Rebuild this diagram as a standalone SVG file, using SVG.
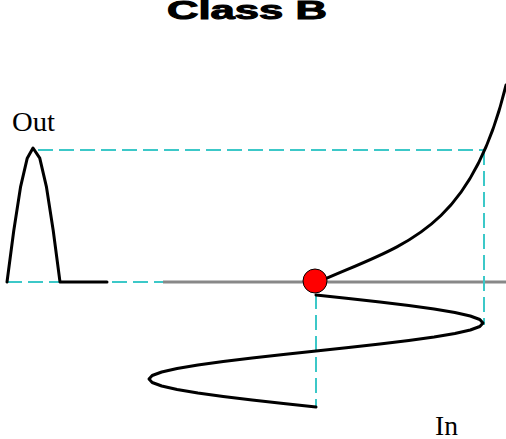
<svg xmlns="http://www.w3.org/2000/svg" width="506" height="439" viewBox="0 0 506 439">
<style>
.guide{fill:none;stroke:#3cc8c8;stroke-width:2;stroke-dasharray:15,6}
.curve{fill:none;stroke:#000;stroke-width:3;stroke-linejoin:round;stroke-linecap:round}
.axis{stroke:#888;stroke-width:3}
.lbl{font-family:"Liberation Serif","Times New Roman",serif;fill:#000}
</style>
<rect width="506" height="439" fill="#fff"/>
<g id="title"><text x="167" y="19" font-family="Liberation Sans, Arial, sans-serif" font-weight="bold" font-size="26" textLength="160" lengthAdjust="spacingAndGlyphs" stroke="#000" stroke-width="1">Class B</text></g>
<g id="connectors">
<line class="guide" x1="38" y1="150" x2="484" y2="150"/>
<line class="guide" x1="7" y1="282" x2="163" y2="282"/>
<line class="axis" x1="163" y1="282" x2="506" y2="282"/>
<line class="guide" x1="484" y1="150" x2="484" y2="325"/>
<line class="guide" x1="316" y1="294" x2="316" y2="406"/>
</g>
<g id="output-wave"><polyline class="curve" points="7,282 13.75,230.7 20.5,187.2 27.25,158.2 33,148 39.75,158.2 46.5,187.2 53.25,230.7 60,282 107,282"/></g>
<g id="transfer-curve"><path class="curve" d="M316,283 C400,245 470,235 506,85"/></g>
<g id="input-wave"><polyline class="curve" points="316,295 348.6,298.5 379.9,302 408.8,305.5 434.1,309 454.9,312.5 470.3,316 479.8,319.5 483,323 479.8,326.5 470.3,330 454.9,333.5 434.1,337 408.8,340.5 379.9,344 348.6,347.5 316,351 283.4,354.5 252.1,358 223.2,361.5 197.9,365 177.1,368.5 161.7,372 152.2,375.5 149,379 152.2,382.5 161.7,386 177.1,389.5 197.9,393 223.2,396.5 252.1,400 283.4,403.5 316,407"/></g>
<g id="q-point"><circle cx="315" cy="281" r="12" fill="#f00" stroke="#000" stroke-width="1"/></g>
<g id="label-out"><text class="lbl" x="12" y="131" font-size="28" textLength="43" lengthAdjust="spacingAndGlyphs">Out</text></g>
<g id="label-in"><text class="lbl" x="435" y="435" font-size="28" textLength="23" lengthAdjust="spacingAndGlyphs">In</text></g>
</svg>
